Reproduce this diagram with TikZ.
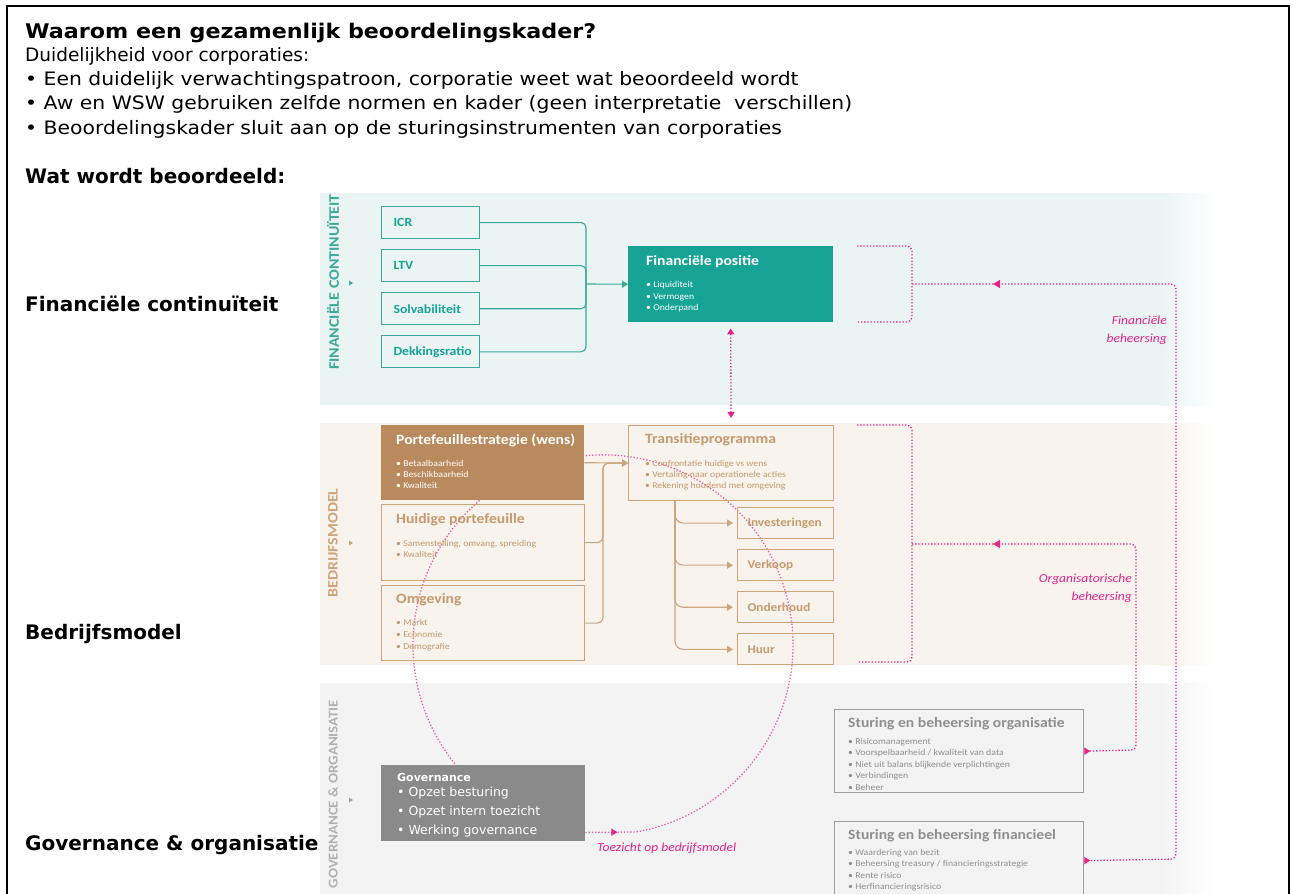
\documentclass[tikz,border=0pt]{standalone}
\usepackage{fontspec}
\setmainfont{DejaVu Sans}
\newfontfamily\headwide[FakeStretch=1.1]{DejaVu Sans}
\newfontfamily\diagfont[FakeStretch=1.1]{Carlito}
\usetikzlibrary{arrows.meta, positioning, calc, decorations.markings}

\definecolor{tealmain}{HTML}{17A396}
\definecolor{tealline}{HTML}{3AA89B}
\definecolor{tealbg}{HTML}{E9F4F3}
\definecolor{brownmain}{HTML}{B98A5D}
\definecolor{brownline}{HTML}{CDA57C}
\definecolor{browntext}{HTML}{C49A6E}
\definecolor{beigebg}{HTML}{F8F3EC}
\definecolor{greymain}{HTML}{8A8A8A}
\definecolor{greyline}{HTML}{9E9E9E}
\definecolor{greytext}{HTML}{8F8F8F}
\definecolor{greybg}{HTML}{F3F3F3}
\definecolor{pinkmain}{HTML}{E2248B}

\newcommand\ttlfont{\diagfont\bfseries\fontsize{14.2}{16}\selectfont}

\tikzset{
	headtext/.style={anchor=base west, inner sep=0pt, font=\headwide\fontsize{18.5}{22}\selectfont},
	headbold/.style={anchor=base west, inner sep=0pt, font=\bfseries\fontsize{20}{24}\selectfont},
	sidelabel/.style={rotate=90, inner sep=0pt, font=\diagfont\bfseries\fontsize{14.5}{16}\selectfont},
	boxtext/.style={anchor=north west, inner sep=0pt, align=left, font=\diagfont\fontsize{8.9}{11.5}\selectfont},
	pinkdot/.style={draw=pinkmain, line width=1.3pt, dash pattern=on 1.3pt off 1.9pt},
	pinklabel/.style={inner sep=0pt, align=right, text=pinkmain, font=\diagfont\itshape\fontsize{12.3}{18}\selectfont}
}

\begin{document}
\begin{tikzpicture}[x=1pt, y=-1pt, >={Triangle[length=6pt, width=7pt]},
	fcbox/.style={draw=tealline, line width=1.1pt, anchor=north west, minimum height=32pt,
		text width=74pt, inner xsep=12pt, text=tealmain, font=\diagfont\bfseries\fontsize{12.5}{14}\selectfont},
	actbox/.style={draw=brownline, line width=1.1pt, anchor=north west, minimum height=31pt,
		text width=76pt, inner xsep=10pt, text=browntext, font=\diagfont\bfseries\fontsize{12}{14}\selectfont},
	bigbox/.style={anchor=north west, minimum width=204pt, minimum height=76pt},
	tealconn/.style={draw=tealline, line width=1.1pt},
	brownconn/.style={draw=brownline, line width=1.1pt}]
	\useasboundingbox (0,0) rectangle (1293,894);
	
	% frame
	\draw[line width=2pt] (7,900) -- (7,6) -- (1289,6) -- (1289,900);
	
	% header
	\node[anchor=base west, inner sep=0pt, font=\headwide\bfseries\fontsize{20.2}{24}\selectfont] (title) at (25,38) {Waarom een gezamenlijk beoordelingskader?};
	\node[headtext, font=\fontsize{18.5}{22}\selectfont] (intro) at (25,61) {Duidelijkheid voor corporaties:};
	\node[headtext] (pt1) at (25,85) {• Een duidelijk verwachtingspatroon, corporatie weet wat beoordeeld wordt};
	\node[headtext] (pt2) at (25,109) {• Aw en WSW gebruiken zelfde normen en kader (geen interpretatie\ \ verschillen)};
	\node[headtext] (pt3) at (25,134) {• Beoordelingskader sluit aan op de sturingsinstrumenten van corporaties};
	\node[headbold] (wat) at (25,183) {Wat wordt beoordeeld:};
	\node[headbold] (lblfc) at (25,311) {Financiële continuïteit};
	\node[headbold] (lblbm) at (25,639) {Bedrijfsmodel};
	\node[headbold] (lblgo) at (25,850) {Governance \& organisatie};
	
	% bands
	\fill[tealbg] (320,193) rectangle (1160,405);
	\shade[left color=tealbg, right color=white] (1160,193) rectangle (1215,405);
	\fill[beigebg] (320,423) rectangle (1160,665);
	\shade[left color=beigebg, right color=white] (1160,423) rectangle (1215,665);
	\fill[greybg] (320,683) rectangle (1160,894);
	\shade[left color=greybg, right color=white] (1160,683) rectangle (1215,894);
	
	\node[sidelabel, text=tealline] (sidefc) at (333,282) {FINANCIËLE CONTINUÏTEIT};
	\node[sidelabel, text=brownline] (sidebm) at (333,543) {BEDRIJFSMODEL};
	\node[sidelabel, text=greyline!80, font=\diagfont\bfseries\fontsize{13.5}{15}\selectfont] (sidego) at (333,794) {GOVERNANCE \& ORGANISATIE};
	\fill[tealline] (349,280.5) -- (353,283) -- (349,285.5) -- cycle;
	\fill[brownline] (349,540.5) -- (353,543) -- (349,545.5) -- cycle;
	\fill[greyline] (349,797.5) -- (353,800) -- (349,802.5) -- cycle;
	
	% toezicht op bedrijfsmodel (behind the boxes)
	\node[bigbox, fill=greymain] (gov) at (381,765) {};
	\draw[pinkdot, draw=pinkmain!75, postaction={decorate},
		decoration={markings, mark=at position 32pt with {\arrow[pinkmain]{Triangle[length=6pt, width=7pt]}}}]
		([yshift=9pt]gov.south east) -- (636,832) arc[start angle=80, end angle=-220, radius=190];
	\node[bigbox, fill=greymain] at (381,765) {};
	\node[pinklabel, anchor=west] (toez) at (597,848) {Toezicht op bedrijfsmodel};
	
	% financiele continuiteit
	\node[fcbox] (icr) at (381,206) {ICR};
	\node[fcbox, below=10pt of icr] (ltv) {LTV};
	\node[fcbox, below=10pt of ltv] (solv) {Solvabiliteit};
	\node[fcbox, below=10pt of solv] (dekk) {Dekkingsratio};
	\node[bigbox, fill=tealmain, minimum width=205pt] (fp) at (628,246) {};
	\node[boxtext, text=white, below right=9.5pt and 18pt of fp.north west] (fptxt)
		{{\ttlfont Financiële positie}\\[10.5pt] • Liquiditeit\\ • Vermogen\\ • Onderpand};
	
	\coordinate (fcjoin) at (586,284);
	\foreach \b in {icr,ltv,solv,dekk}
		\draw[tealconn, rounded corners=5pt] (\b.east) -| (fcjoin);
	\draw[tealconn, ->] (fcjoin) -- (fp.west);
	
	% bedrijfsmodel
	\node[bigbox, fill=brownmain, minimum width=203pt, minimum height=75pt] (strat) at (381,425) {};
	\node[boxtext, text=white, below right=8.5pt and 15pt of strat.north west, font=\diagfont\fontsize{8.9}{11}\selectfont] (strattxt)
		{{\ttlfont Portefeuillestrategie (wens)}\\[11pt] • Betaalbaarheid\\ • Beschikbaarheid\\ • Kwaliteit};
	\node[bigbox, draw=brownline, line width=1.1pt, minimum width=203pt] (huidig) at (381,504) {};
	\node[boxtext, text=browntext, below right=9.5pt and 15pt of huidig.north west, font=\diagfont\fontsize{8.9}{11}\selectfont] (huidigtxt)
		{{\ttlfont Huidige portefeuille}\\[11.5pt] • Samenstelling, omvang, spreiding\\ • Kwaliteit};
	\node[bigbox, draw=brownline, line width=1.1pt, minimum width=203pt, minimum height=75pt] (omgeving) at (381,585) {};
	\node[boxtext, text=browntext, below right=8.5pt and 15pt of omgeving.north west, font=\diagfont\fontsize{8.9}{12}\selectfont] (omgevingtxt)
		{{\ttlfont Omgeving}\\[9.5pt] • Markt\\ • Economie\\ • Demografie};
	\node[bigbox, draw=brownline, line width=1.1pt, minimum width=205pt, minimum height=75pt] (transitie) at (628,425) {};
	\node[boxtext, text=browntext, below right=8.5pt and 17pt of transitie.north west, font=\diagfont\fontsize{8.9}{11}\selectfont] (transitietxt)
		{{\ttlfont Transitieprogramma}\\[11.5pt] • Confrontatie huidige vs wens\\ • Vertaling naar operationele acties\\ • Rekening houdend met omgeving};
	
	\node[actbox] (invest) at (737,507) {Investeringen};
	\node[actbox, below=10pt of invest] (verkoop) {Verkoop};
	\node[actbox, below=10pt of verkoop] (onderhoud) {Onderhoud};
	\node[actbox, below=10pt of onderhoud] (huur) {Huur};
	
	\coordinate (bmjoin) at (603,478);
	\draw[brownconn, ->] (strat.east) -- (transitie.west);
	\draw[brownconn, ->, rounded corners=6pt] (huidig.east) -| (bmjoin) |- (transitie.west);
	\draw[brownconn, ->, rounded corners=6pt] (omgeving.east) -| (bmjoin) |- (transitie.west);
	\coordinate (tpfork) at (675,500);
	\foreach \b in {invest,verkoop,onderhoud,huur}
		\draw[brownconn, ->, rounded corners=8pt, shorten >=4pt] (tpfork) |- (\b.west);
	
	% governance & organisatie
	\node[boxtext, text=white, below right=8.5pt and 16pt of gov.north west, font=\fontsize{12.5}{19}\selectfont] (govtxt)
		{{\bfseries\fontsize{11}{13}\selectfont Governance}\\[-4pt] • Opzet besturing\\ • Opzet intern toezicht\\ • Werking governance};
	\node[bigbox, draw=greyline, line width=1.3pt, minimum width=249pt, minimum height=83pt] (sbo) at (834,709) {};
	\node[boxtext, text=greytext, below right=8.5pt and 14pt of sbo.north west] (sbotxt)
		{{\ttlfont Sturing en beheersing organisatie}\\[5pt] • Risicomanagement\\ • Voorspelbaarheid / kwaliteit van data\\
		• Niet uit balans blijkende verplichtingen\\ • Verbindingen\\ • Beheer};
	\node[bigbox, draw=greyline, line width=1.3pt, minimum width=249pt, minimum height=78pt] (sbf) at (834,821) {};
	\node[boxtext, text=greytext, below right=8.5pt and 14pt of sbf.north west, font=\diagfont\fontsize{8.9}{11.3}\selectfont] (sbftxt)
		{{\ttlfont Sturing en beheersing financieel}\\[4.5pt] • Waardering van bezit\\ • Beheersing treasury / financieringsstrategie\\
		• Rente risico\\ • Herfinancieringsrisico};
	
	% beheersing loops
	\draw[pinkdot, {Triangle[length=6pt, width=7pt]}-{Triangle[length=6pt, width=7pt]}, shorten <=6pt, shorten >=7pt] (fp.south) -- (transitie.north);
	\draw[pinkdot, rounded corners=5pt] (857,246) -- (912,246) -- (912,322) -- (857,322);
	\draw[pinkdot, rounded corners=5pt] (857,425) -- (912,425) -- (912,662) -- (857,662);
	\coordinate (fbmid) at (912,284);
	\coordinate (obmid) at (912,544);
	\draw[pinkdot, rounded corners=5pt, -{Triangle[reversed, length=6pt, width=7pt]}, postaction={decorate},
		decoration={markings, mark=at position 81pt with {\arrowreversed[pinkmain]{Triangle[length=7pt, width=8pt]}}}]
		(fbmid) -- (1176,284) -- (1176,859) -- (sbf.east);
	\draw[pinkdot, rounded corners=5pt, -{Triangle[reversed, length=6pt, width=7pt]}, postaction={decorate},
		decoration={markings, mark=at position 81pt with {\arrowreversed[pinkmain]{Triangle[length=7pt, width=8pt]}}}]
		(obmid) -- (1136,544) -- (1136,750) -- (sbo.east);
	\node[pinklabel, anchor=north east] (finbeh) at (1167,316) {Financiële\\beheersing};
	\node[pinklabel, anchor=north east] (orgbeh) at (1132,574) {Organisatorische\\beheersing};
\end{tikzpicture}
\end{document}
